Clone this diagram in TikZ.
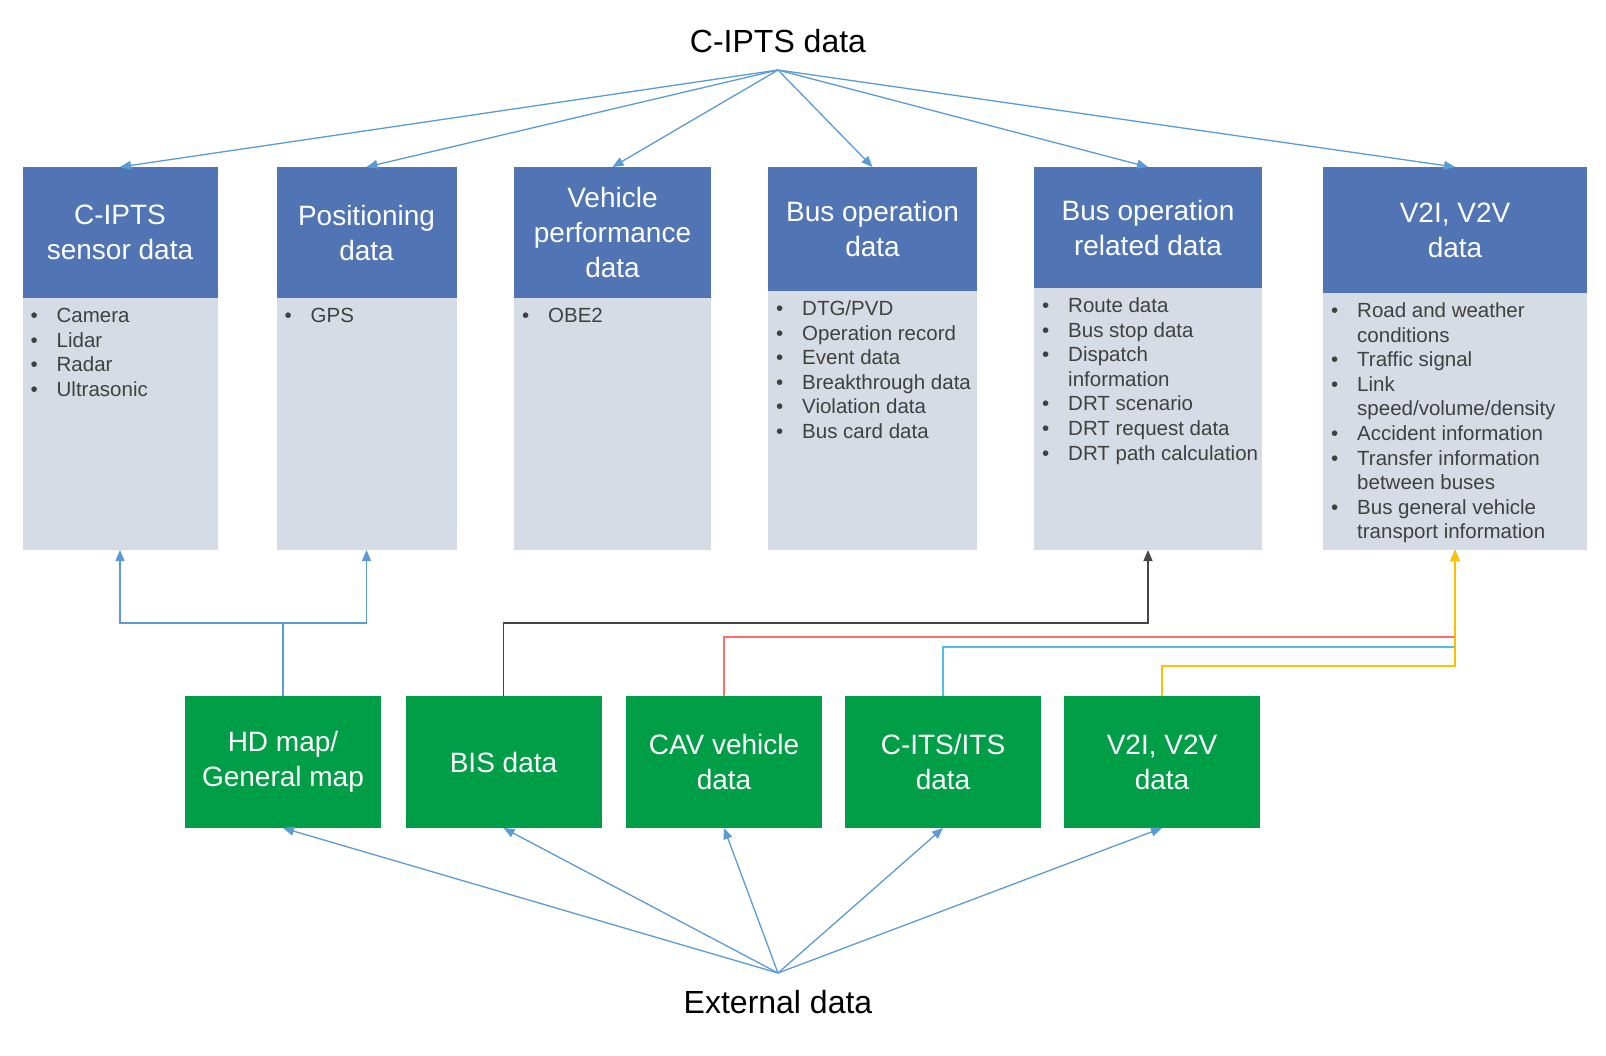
\documentclass[tikz,border=0pt]{standalone}
\usepackage{fontspec}
\setmainfont{Liberation Sans}
\usetikzlibrary{positioning}
\usetikzlibrary{arrows.meta}
\definecolor{hdrblue}{RGB}{80,116,180}
\definecolor{bodygray}{RGB}{214,220,229}
\definecolor{extgreen}{RGB}{0,158,71}
\definecolor{arrblue}{RGB}{91,155,213}
\definecolor{lsttext}{RGB}{64,64,64}
\definecolor{blkline}{RGB}{70,70,70}
\definecolor{redline}{RGB}{255,110,110}
\definecolor{cyanline}{RGB}{80,190,235}
\definecolor{yelline}{RGB}{255,192,0}
\tikzset{
  box_n/.style = {inner sep=0pt, outer sep=0pt, align=center},
  hdr_n/.style = {box_n, anchor=north west, fill=hdrblue, text=white,
    font=\fontsize{28}{35}\selectfont},
  body_n/.style = {box_n, fill=bodygray},% list part under the header
  ext_n/.style = {box_n, fill=extgreen, text=white, minimum width=196pt,
    minimum height=132pt, font=\fontsize{28}{35}\selectfont},
  lst_n/.style = {inner sep=0pt, anchor=north west, text=lsttext,
    font=\fontsize{20.5}{24.6}\selectfont},
  ttl_n/.style = {inner sep=0pt, font=\fontsize{32}{38}\selectfont},
  arr/.style = {-{Triangle[length=11pt,width=9pt]}, draw=arrblue, line width=1.3pt},
}
\newcommand{\itm}{\textbullet &}

\begin{document}
\begin{tikzpicture}[x=1pt,y=-1pt]
\useasboundingbox (0,0) rectangle (1606,1055);

\node[ttl_n] (cipts) at (778,41) {C-IPTS data};
\node[ttl_n] (ext) at (778,1002) {External data};

\node[hdr_n, minimum width=195pt, minimum height=131pt] (h1) at (22.5,167) {C-IPTS\\sensor data};
\node[hdr_n, minimum width=180pt, minimum height=131pt] (h2) at (276.5,167) {Positioning\\data};
\node[hdr_n, minimum width=197pt, minimum height=131pt] (h3) at (514,167) {Vehicle\\performance\\data};
\node[hdr_n, minimum width=209pt, minimum height=124pt] (h4) at (768,167) {Bus operation\\data};
\node[hdr_n, minimum width=228pt, minimum height=121pt] (h5) at (1034,167) {Bus operation\\related data};
\node[hdr_n, minimum width=264pt, minimum height=126pt] (h6) at (1323,167) {V2I, V2V\\data};

\node[body_n, minimum width=195pt, minimum height=252pt, below=0pt of h1] (b1) {};
\node[body_n, minimum width=180pt, minimum height=252pt, below=0pt of h2] (b2) {};
\node[body_n, minimum width=197pt, minimum height=252pt, below=0pt of h3] (b3) {};
\node[body_n, minimum width=209pt, minimum height=259pt, below=0pt of h4] (b4) {};
\node[body_n, minimum width=228pt, minimum height=262pt, below=0pt of h5] (b5) {};
\node[body_n, minimum width=264pt, minimum height=257pt, below=0pt of h6] (b6) {};

\node[lst_n] (l1) at ([shift={(8pt,-7pt)}]b1.north west) {\begin{tabular}{@{}p{26pt}@{}l@{}}
\itm Camera\\ \itm Lidar\\ \itm Radar\\ \itm Ultrasonic
\end{tabular}};
\node[lst_n] (l2) at ([shift={(8pt,-7pt)}]b2.north west) {\begin{tabular}{@{}p{26pt}@{}l@{}}
\itm GPS
\end{tabular}};
\node[lst_n] (l3) at ([shift={(8pt,-7pt)}]b3.north west) {\begin{tabular}{@{}p{26pt}@{}l@{}}
\itm OBE2
\end{tabular}};
\node[lst_n] (l4) at ([shift={(8pt,-7pt)}]b4.north west) {\begin{tabular}{@{}p{26pt}@{}l@{}}
\itm DTG/PVD\\ \itm Operation record\\ \itm Event data\\ \itm Breakthrough data\\
\itm Violation data\\ \itm Bus card data
\end{tabular}};
\node[lst_n] (l5) at ([shift={(8pt,-7pt)}]b5.north west) {\begin{tabular}{@{}p{26pt}@{}l@{}}
\itm Route data\\ \itm Bus stop data\\ \itm Dispatch\\ & information\\ \itm DRT scenario\\
\itm DRT request data\\ \itm DRT path calculation
\end{tabular}};
\node[lst_n] (l6) at ([shift={(8pt,-7pt)}]b6.north west) {\begin{tabular}{@{}p{26pt}@{}l@{}}
\itm Road and weather\\ & conditions\\ \itm Traffic signal\\ \itm Link\\ & speed/volume/density\\
\itm Accident information\\ \itm Transfer information\\ & between buses\\
\itm Bus general vehicle\\ & transport information
\end{tabular}};

\node[ext_n] (hd) at (283,762) {HD map/\\General map};
\node[ext_n, right=24.5pt of hd] (bis) {BIS data};
\node[ext_n, right=24.5pt of bis] (cav) {CAV vehicle\\data};
\node[ext_n, right=23pt of cav] (its) {C-ITS/ITS\\data};
\node[ext_n, right=23pt of its] (v2x) {V2I, V2V\\data};

\coordinate (top) at (778,70);
\coordinate (bot) at (778,973);
\foreach \i in {1,...,6} \draw[arr] (top) -- (h\i.north);
\foreach \g in {hd,bis,cav,its,v2x} \draw[arr] (bot) -- (\g.south);

\draw[arr] (hd.north) -- ++(0,-73) coordinate (jn) -| (b1.south);
\draw[arr] (jn) -| (b2.south);
\draw[arr, draw=blkline] (bis.north) -- ++(0,-73) -| (b5.south);
\draw[arr, draw=redline] (cav.north) -- ++(0,-59) -| (b6.south);
\draw[arr, draw=cyanline] (its.north) -- ++(0,-49) -| (b6.south);
\draw[arr, draw=yelline] (v2x.north) -- ++(0,-30) -| (b6.south);
\end{tikzpicture}
\end{document}
